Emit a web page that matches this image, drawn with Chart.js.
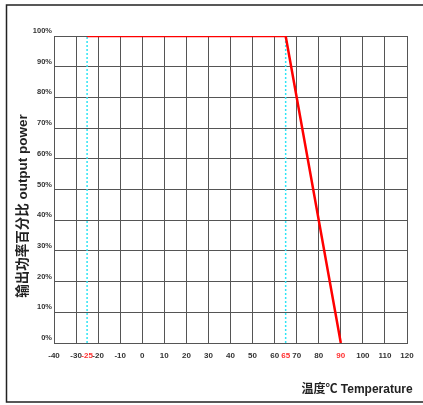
<!DOCTYPE html>
<html>
<head>
<meta charset="utf-8">
<script src="https://cdn.jsdelivr.net/npm/chart.js@4"></script>
<style>
  html, body { margin: 0; padding: 0; background: #fff; }
  #box { width: 423px; height: 405px; position: relative; }
</style>
</head>
<body>
<div id="box"><canvas id="chart"></canvas></div>
<script>
// данные графика
const tempTicks = [-40, -30, -25, -20, -10, 0, 10, 20, 30, 40, 50, 60, 65, 70, 80, 90, 100, 110, 120];
const redTicks = [-25, 65, 90];
const powerTicks = [0, 10, 20, 30, 40, 50, 60, 70, 80, 90, 100];

const curveTemp = [-25, 65, 90];
const curvePower = [100, 100, 0];

const markerTemps = [-25, 65];

const yTitle = "输出功率百分比 output power";
const xTitle = "温度℃ Temperature";

const FONT = "'Liberation Sans', Arial, 'Noto Sans CJK SC', sans-serif";
const GRID = "#555";

const markerSets = markerTemps.map((t) => ({
  data: [{ x: t, y: 0 }, { x: t, y: 100 }],
  borderColor: "#30e4f4",
  borderWidth: 1.5,
  borderDash: [2, 2],
  pointRadius: 0,
  order: 1,
}));

// рамка и подписи осей
const decor = {
  id: "decor",
  afterDraw(chart) {
    const ctx = chart.ctx;
    ctx.save();
    ctx.strokeStyle = "#222";
    ctx.lineWidth = 1.5;
    ctx.beginPath();
    ctx.moveTo(423, 5);
    ctx.lineTo(6.5, 5);
    ctx.lineTo(6.5, 402);
    ctx.lineTo(423, 402);
    ctx.stroke();

    ctx.fillStyle = "#222";
    ctx.textAlign = "center";
    ctx.textBaseline = "middle";
    ctx.font = "bold 12px " + FONT;
    ctx.fillText(xTitle, 357, 390);

    ctx.translate(23, 206);
    ctx.rotate(-Math.PI / 2);
    ctx.font = "bold 13.5px " + FONT;
    ctx.fillText(yTitle, 0, 0);
    ctx.restore();
  },
};

new Chart(document.getElementById("chart"), {
  type: "line",
  data: {
    datasets: [
      {
        data: curveTemp.map((t, i) => ({ x: t, y: curvePower[i] })),
        borderColor: "#ff0000",
        borderWidth: 2.5,
        pointRadius: 0,
        tension: 0,
        order: 0,
      },
      ...markerSets,
    ],
  },
  options: {
    responsive: true,
    maintainAspectRatio: false,
    animation: false,
    layout: { padding: { left: 0, top: 36, right: 16, bottom: 0 } },
    plugins: { legend: { display: false }, tooltip: { enabled: false } },
    scales: {
      x: {
        type: "linear",
        min: -40,
        max: 120,
        afterBuildTicks: (scale) => {
          scale.ticks = tempTicks.map((v) => ({ value: v }));
        },
        afterFit: (scale) => {
          scale.height = 62;
        },
        grid: {
          color: (c) => (c.tick && c.tick.value % 10 !== 0 ? "transparent" : GRID),
          lineWidth: 1,
          drawTicks: false,
        },
        border: { color: GRID },
        ticks: {
          autoSkip: false,
          maxRotation: 0,
          padding: 8,
          color: (c) => (redTicks.includes(c.tick.value) ? "#ff3030" : "#333"),
          font: { family: FONT, size: 8, weight: "bold" },
          callback: (v) => String(v),
        },
      },
      y: {
        min: 0,
        max: 100,
        afterBuildTicks: (scale) => {
          scale.ticks = powerTicks.map((v) => ({ value: v }));
        },
        afterFit: (scale) => {
          scale.width = 54;
        },
        grid: { color: GRID, lineWidth: 1, drawTicks: false },
        border: { color: GRID },
        ticks: {
          padding: 2,
          labelOffset: -5,
          color: "#333",
          font: { family: FONT, size: 7.5, weight: "bold" },
          callback: (v) => v + "%",
        },
      },
    },
  },
  plugins: [decor],
});
</script>
</body>
</html>
